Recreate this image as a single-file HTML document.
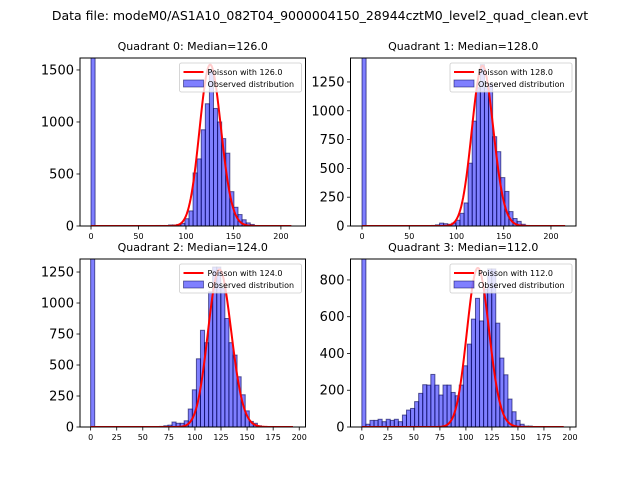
<!DOCTYPE html>
<html><head><meta charset="utf-8"><style>
body{margin:0;background:#fff}
svg{display:block;font-family:"DejaVu Sans","Liberation Sans",sans-serif}
</style></head><body>
<svg id="fig" width="640" height="480" viewBox="0 0 640 480">
<rect width="640" height="480" fill="#fff"/>
<text x="320" y="20" font-size="12.5" text-anchor="middle">Data file: modeM0/AS1A10_082T04_9000004150_28944cztM0_level2_quad_clean.evt</text>
</svg>
<script>
// ---- data ----
const quadNames = ["Quadrant 0","Quadrant 1","Quadrant 2","Quadrant 3"];
const medians = [126.0, 128.0, 124.0, 112.0];
const binWidths = [4.3, 4.32, 3.9, 3.9];
const counts0 = [20000,0,0,0,0,0,0,0,0,0,0,0,0,0,0,0,5,5,5,10,10,15,25,70,145,510,645,925,1175,1500,1130,1000,840,700,330,180,110,60,30,15,5,3,2,1,0,0,0,0,0,0];
const counts1 = [20000,0,0,0,0,0,0,0,0,0,0,0,0,0,0,0,0,5,10,25,20,15,25,50,110,200,545,910,1200,1400,1200,1230,775,645,420,300,125,65,40,15,5,3,2,1,0,0,0,0,0,0];
const counts2 = [20000,0,0,0,0,0,0,0,0,0,0,0,0,0,0,0,0,5,10,15,40,30,30,50,145,300,550,780,680,1090,1290,1290,1120,875,680,580,405,260,130,45,30,10,3,2,0,0,0,0,0,0];
const counts3 = [20000,15,36,36,42,29,42,36,42,29,65,92,101,138,183,230,228,286,228,174,228,228,188,170,228,333,451,587,700,577,750,860,860,565,375,284,152,83,36,15,5,5,2,0,0,0,0,0,0,0];
const poissonPeaks = [1550, 1390, 1270, 865];
const curveMax = [211, 215, 194, 194];
const xLimits = [[-11.6,225.9],[-12.2,226.5],[-10.2,206],[-10.9,205.8]];
const yLimits = [[0,1615],[0,1458],[0,1355],[0,914]];
const xTicks = [[0,50,100,150,200],[0,50,100,150,200],[0,25,50,75,100,125,150,175,200],[0,25,50,75,100,125,150,175,200]];
const yTicks0 = [0,500,1000,1500];
const yTicks1 = [0,250,500,750,1000,1250];
const yTicks2 = [0,250,500,750,1000,1250];
const yTicks3 = [0,200,400,600,800];

const allCounts=[counts0,counts1,counts2,counts3];
const allYTicks=[yTicks0,yTicks1,yTicks2,yTicks3];
const boxes=[[80,58,225.5,168],[350.5,58,225.5,168],[80,259,225.5,168],[350.5,259,225.5,168]];
const NS="http://www.w3.org/2000/svg";
const svg=document.getElementById('fig');
function mk(tag,attrs,parent){const e=document.createElementNS(NS,tag);for(const k in attrs)e.setAttribute(k,attrs[k]);(parent||svg).appendChild(e);return e;}
function lgamma(z){ // Stirling series
  if(z<7){let p=1;while(z<7){p*=z;z+=1;}return lgamma(z)-Math.log(p);}
  return (z-0.5)*Math.log(z)-z+0.5*Math.log(2*Math.PI)+1/(12*z)-1/(360*z*z*z);
}
function pmf(k,lam){return Math.exp(k*Math.log(lam)-lam-lgamma(k+1));}

for(let q=0;q<4;q++){
  const [bx,by,bw,bh]=boxes[q];
  const [x0,x1]=xLimits[q],[y0,y1]=yLimits[q];
  const X=v=>bx+(v-x0)/(x1-x0)*bw;
  const Y=v=>by+bh-(v-y0)/(y1-y0)*bh;
  const g=mk('g',{});
  
  
  const cp=mk('clipPath',{id:'clip'+q},g);
  mk('rect',{x:bx,y:by,width:bw,height:bh},cp);
  const plot=mk('g',{'clip-path':'url(#clip'+q+')'},g);
  // bars
  const c=allCounts[q],w=binWidths[q];
  c.forEach((v,i)=>{
    if(v<=0)return;
    const r=mk('rect',{x:X(i*w),y:Y(v),width:X((i+1)*w)-X(i*w),height:Y(0)-Y(v),fill:'rgba(0,0,255,0.5)',stroke:'rgba(0,0,80,0.6)','stroke-width':'1'},plot);
    
    
  });
  // poisson curve
  const lam=medians[q],norm=poissonPeaks[q]/pmf(Math.floor(lam),lam);
  let d='';
  for(let k=0;k<=curveMax[q];k++){d+=(k?'L':'M')+X(k).toFixed(2)+','+Y(pmf(k,lam)*norm).toFixed(2);}
  const pl=mk('path',{d:d,fill:'none',stroke:'#ff0000','stroke-width':'2','stroke-linejoin':'round'},plot);
  
  
  // frame
  mk('rect',{x:bx,y:by,width:bw,height:bh,fill:'none',stroke:'#000','stroke-width':'1'},g);
  // x ticks
  xTicks[q].forEach(t=>{
    const x=X(t);
    mk('line',{x1:x,x2:x,y1:by+bh,y2:by+bh+3.5,stroke:'#000','stroke-width':'0.8'},g);
    const tx=mk('text',{x:x,y:by+bh+13,'font-size':'8','text-anchor':'middle'},g);
    tx.textContent=t;
    
    
  });
  // y ticks
  allYTicks[q].forEach(t=>{
    const y=Y(t);
    mk('line',{x1:bx-3.5,x2:bx,y1:y,y2:y,stroke:'#000','stroke-width':'0.8'},g);
    const tx=mk('text',{x:bx-6,y:y+4.5,'font-size':'13','text-anchor':'end'},g);
    tx.textContent=t;
    
    
  });
  // title
  const tt=mk('text',{x:bx+bw/2,y:by-8,'font-size':'11','text-anchor':'middle'},g);
  tt.textContent=quadNames[q]+': Median='+medians[q].toFixed(1);
  
  
  // legend
  const lg=mk('g',{},g);
  
  
  const lx=bx+bw-126,ly=by+5;
  mk('rect',{x:lx,y:ly,width:122,height:29,fill:'rgba(255,255,255,0.8)',stroke:'#ccc','stroke-width':'0.8',rx:2},lg);
  mk('line',{x1:lx+4,x2:lx+24,y1:ly+9,y2:ly+9,stroke:'#ff0000','stroke-width':'2'},lg);
  const t1=mk('text',{x:lx+28,y:ly+12,'font-size':'8'},lg);
  t1.textContent='Poisson with '+medians[q].toFixed(1);
  mk('rect',{x:lx+4,y:ly+17,width:20,height:7,fill:'rgba(0,0,255,0.5)',stroke:'rgba(0,0,80,0.6)','stroke-width':'0.8'},lg);
  const t2=mk('text',{x:lx+28,y:ly+24,'font-size':'8'},lg);
  t2.textContent='Observed distribution';
}
</script>
</body></html>
